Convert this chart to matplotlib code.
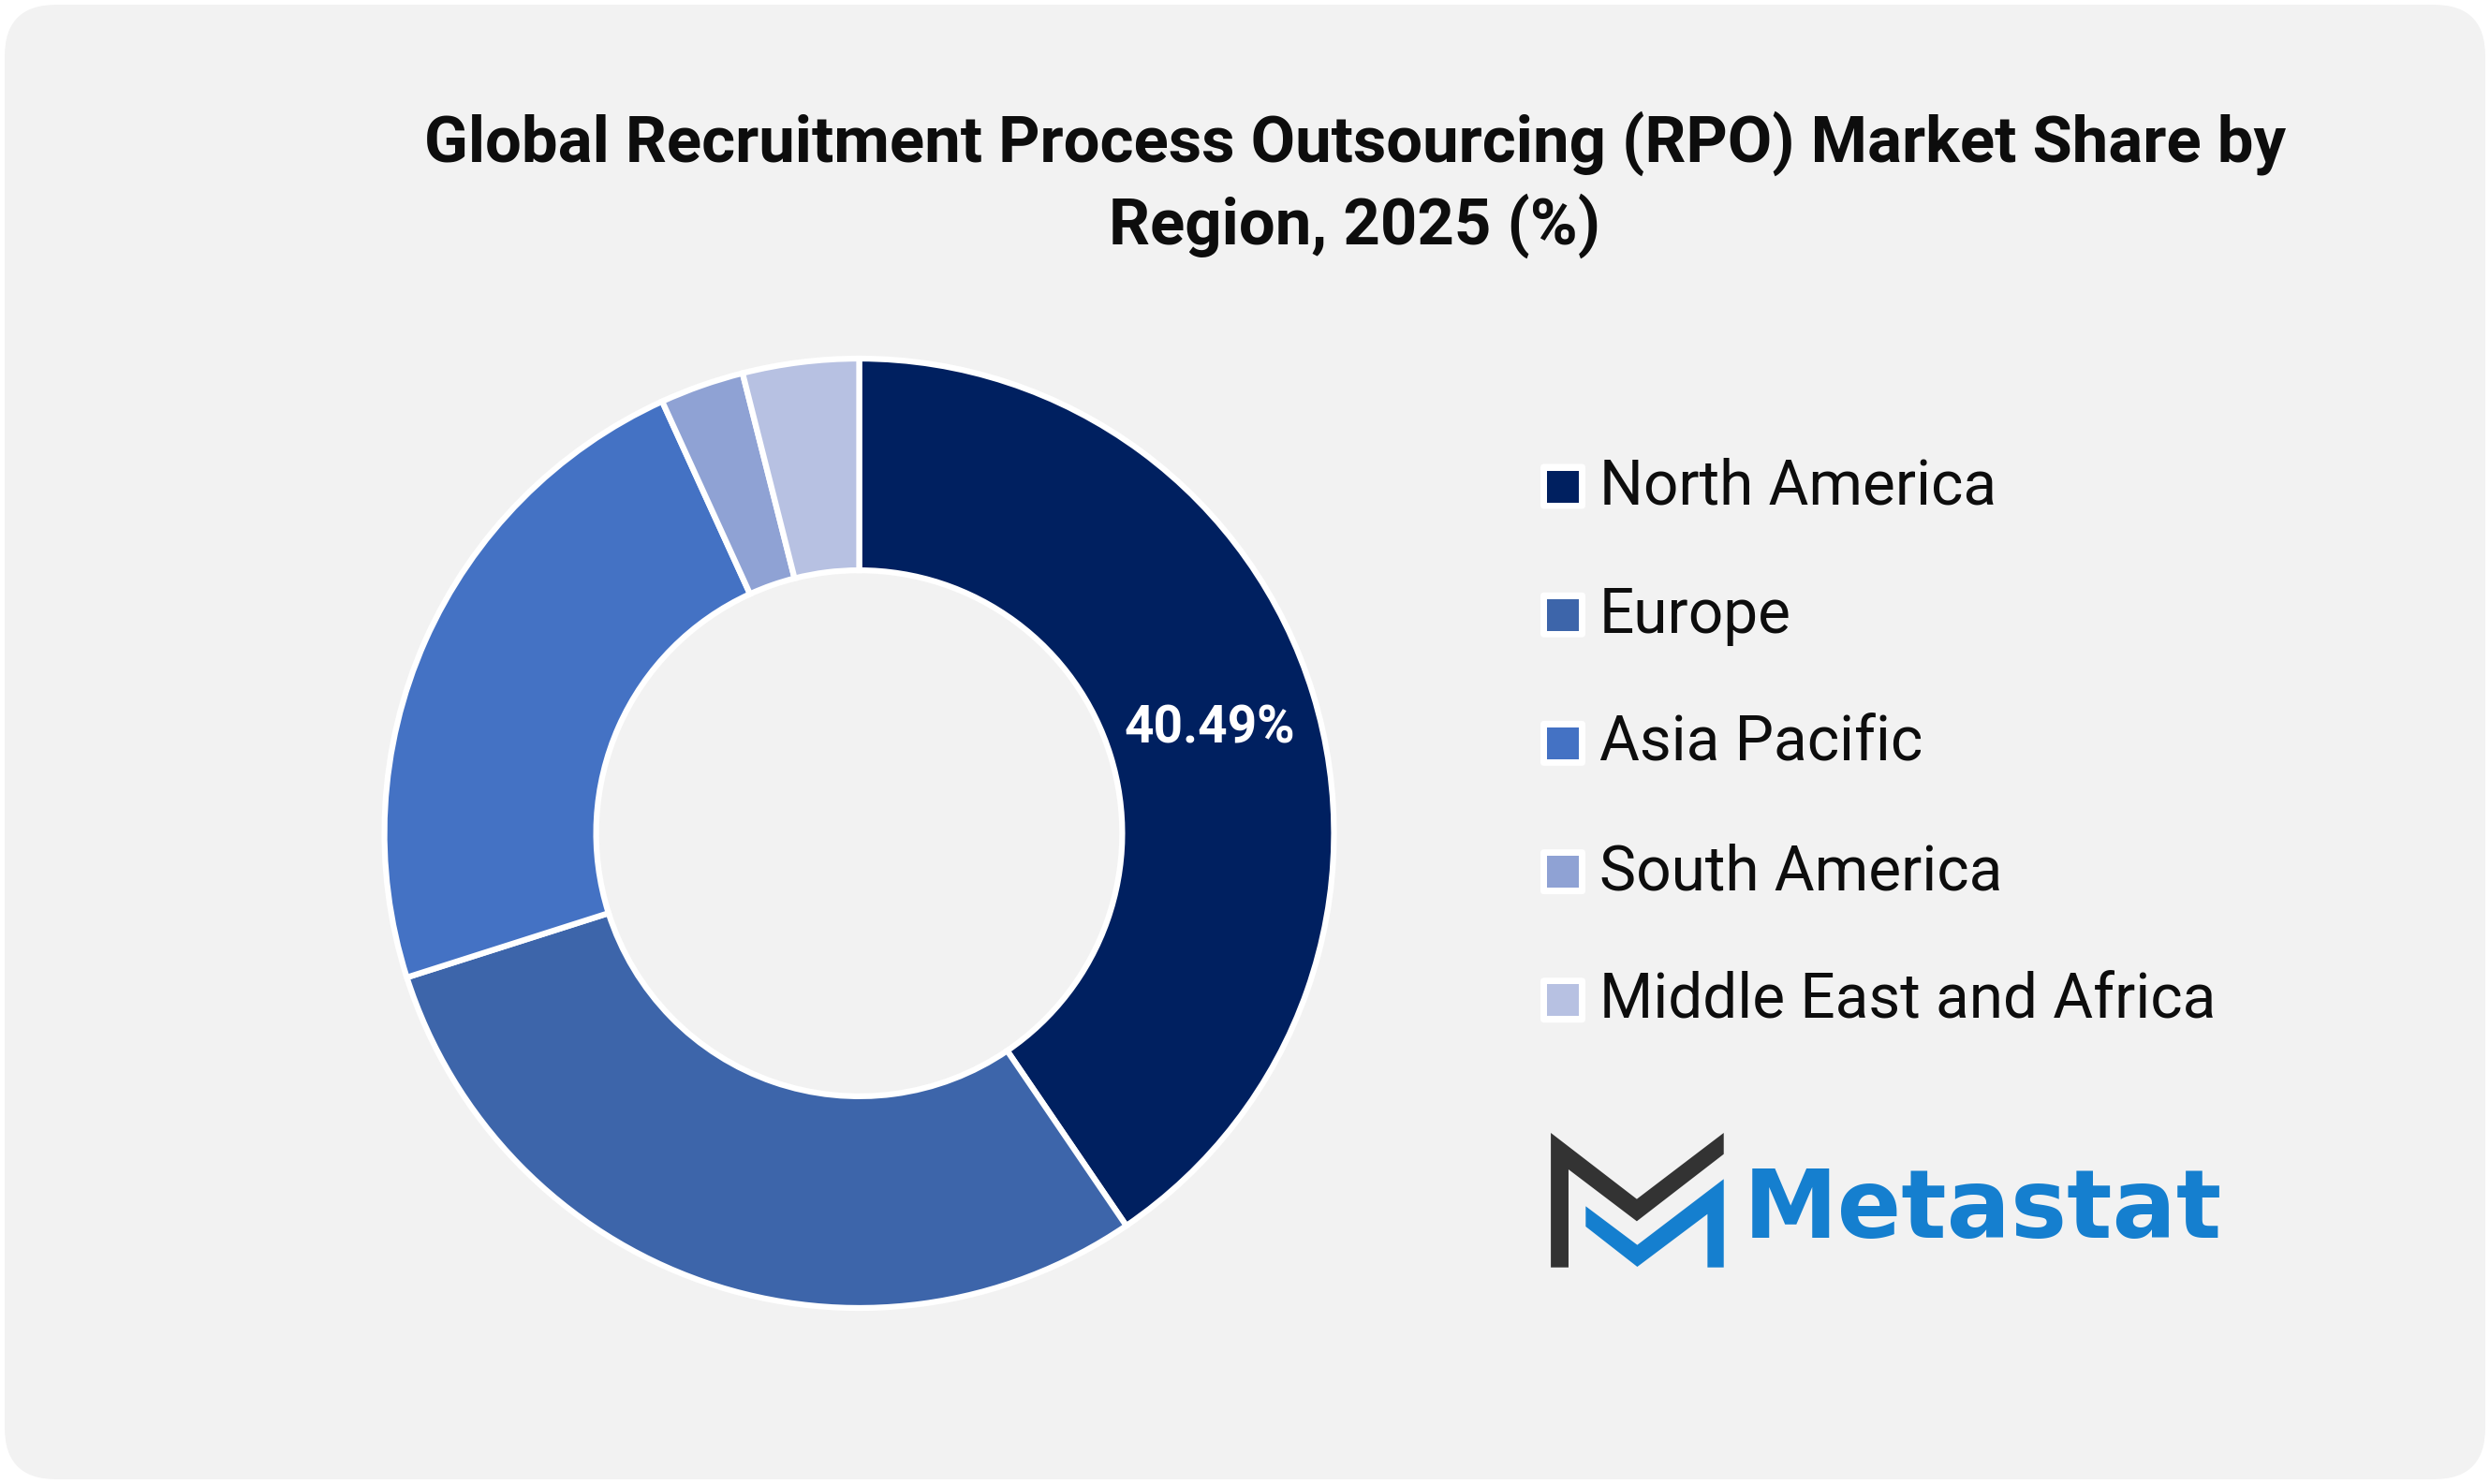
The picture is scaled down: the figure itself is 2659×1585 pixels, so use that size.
import matplotlib
matplotlib.use("Agg")
import matplotlib.pyplot as plt
from matplotlib.patches import FancyBboxPatch, Polygon, Rectangle

# Datos
regiones = ["North America", "Europe", "Asia Pacific", "South America", "Middle East and Africa"]
valores = [40.49, 29.6, 23.1, 2.86, 3.95]
colores = ["#002060", "#3D65AA", "#4472C4", "#8FA2D4", "#B7C1E2"]
titulo = "Global Recruitment Process Outsourcing (RPO) Market Share by\nRegion, 2025 (%)"

ANCHO, ALTO = 2659, 1585
plt.rcParams["font.family"] = ["Roboto", "DejaVu Sans"]

fig = plt.figure(figsize=(ANCHO / 100, ALTO / 100), dpi=100, facecolor="white")

# Capa de fondo en pixeles
fondo = fig.add_axes([0, 0, 1, 1], zorder=0)
fondo.set_xlim(0, ANCHO)
fondo.set_ylim(ALTO, 0)
fondo.axis("off")
fondo.add_patch(FancyBboxPatch((60, 60), ANCHO - 120, ALTO - 120,
                               boxstyle="round,pad=55,rounding_size=55",
                               fc="#F2F2F2", ec="none"))

fondo.text(1447, 197, titulo, ha="center", va="center", fontsize=49.6, fontweight="bold",
           color="#0D0D0D", linespacing=1.34)

# Dona
cx, cy, r = 917.5, 890, 507
ax = fig.add_axes([(cx - r) / ANCHO, 1 - (cy + r) / ALTO, 2 * r / ANCHO, 2 * r / ALTO], zorder=1)
ax.pie(valores, colors=colores, startangle=90, counterclock=False, radius=1,
       wedgeprops=dict(width=0.446, edgecolor="white", linewidth=4.5))
ax.set_xlim(-1, 1)
ax.set_ylim(-1, 1)
ax.patch.set_alpha(0)

# Leyenda y etiqueta
capa = fig.add_axes([0, 0, 1, 1], zorder=2)
capa.set_xlim(0, ANCHO)
capa.set_ylim(ALTO, 0)
capa.axis("off")
capa.text(1292, 778, f"{valores[0]:.2f}%", ha="center", va="center", fontsize=39.5,
          fontweight="bold", color="white")
for i, (nombre, color) in enumerate(zip(regiones, colores)):
    y = 519.5 + i * 137.2
    capa.add_patch(FancyBboxPatch((1652, y - 17), 34, 34, boxstyle="round,pad=7,rounding_size=4",
                                  fc="white", ec="none"))
    capa.add_patch(Rectangle((1652, y - 17), 34, 34, fc=color, ec="none"))
    capa.text(1708, y + 19, nombre, ha="left", va="baseline", fontsize=47.3, color="#0D0D0D")

# Logo
def logo_px(puntos):
    return [(1600 + x * 0.51, 1170 + y / 3) for x, y in puntos]

oscuro = [(110, 120), (290, 332), (472, 120), (472, 188), (290, 403), (147, 237), (147, 551), (110, 551)]
azul = [(183, 355), (291, 479), (472, 268), (472, 551), (438, 551), (438, 380), (291, 549), (183, 420)]
capa.add_patch(Polygon(logo_px(oscuro), closed=True, fc="#333333", ec="none"))
capa.add_patch(Polygon(logo_px(azul), closed=True, fc="#157FCF", ec="none"))
capa.text(1862, 1322, "Metastat", ha="left", va="baseline", fontsize=72.8, fontweight="bold",
          color="#157FCF", family="DejaVu Sans")

fig.savefig("out.png", dpi=100, facecolor="white")
